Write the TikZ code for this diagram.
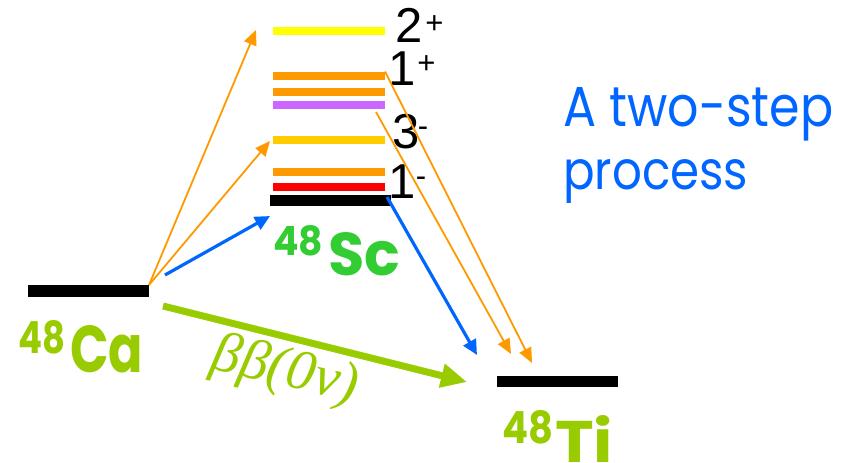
\documentclass[tikz,border=0pt]{standalone}
\usepackage{fontspec}
\usepackage{graphicx}
\setmainfont{Liberation Sans}
\newfontfamily\comicfont{Poppins}
\newfontfamily\grkfont{Liberation Serif}
\usetikzlibrary{arrows.meta}
\definecolor{cyel}{HTML}{FFFF00}
\definecolor{corange}{HTML}{FF9900}
\definecolor{cpurple}{HTML}{CC66FF}
\definecolor{cgold}{HTML}{FFCC00}
\definecolor{cred}{HTML}{FF0000}
\definecolor{cblue}{HTML}{0066FF}
\definecolor{cgreen}{HTML}{33CC33}
\definecolor{clime}{HTML}{99CC00}
\tikzset{
  bar/.style={rectangle, inner sep=0pt, outer sep=0pt, minimum width=112pt, minimum height=8pt},
  gbar/.style={rectangle, inner sep=0pt, outer sep=0pt, fill=black, minimum width=121pt, minimum height=11.5pt},
  lvl/.style={anchor=base west, inner sep=0pt, font=\fontsize{49}{49}\selectfont},
  lbl/.style={anchor=base west, inner sep=0pt, font=\comicfont\bfseries},
  oarr/.style={draw=corange, line width=1.8pt, -{Triangle[length=15pt, width=13pt]}},
  barr/.style={draw=cblue, line width=3.2pt, -{Triangle[length=15pt, width=14pt]}},
  garr/.style={draw=clime, line width=7pt, -{Triangle[length=26pt, width=23pt]}},
}
\newcommand{\supsym}[3]{\kern#1pt\raisebox{#2pt}{\fontsize{31}{31}\selectfont #3}}
\begin{document}
\begin{tikzpicture}[x=1pt, y=-1pt]
\useasboundingbox (0,0) rectangle (849,463);
% levels of 48Sc
\node[bar, fill=cyel]    (y2) at (329,31) {};
\node[bar, fill=corange] (o1) at (329,75.5) {};
\node[bar, fill=corange] (o2) at (329,91.5) {};
\node[bar, fill=cpurple] (pu) at (329,105) {};
\node[bar, fill=cgold]   (g3) at (329,139.5) {};
\node[bar, fill=corange] (o3) at (329,171.5) {};
\node[bar, fill=cred]    (rd) at (329,187) {};
\node[gbar] (sc) at (330.5,200.5) {};
\node[gbar, minimum height=12pt] (ca) at (88.5,291) {};
\node[gbar] (ti) at (557.5,381.5) {};
% spin labels
\node[lvl] (l2p) at (395.6,42) {2\supsym{2.4}{9}{+}};
\node[lvl] (l1p) at (387.8,85) {1\supsym{2.2}{12}{+}};
\node[lvl] (l3m) at (392,148) {3\supsym{-1.5}{12}{-}};
\node[lvl] (l1m) at (387.8,198) {1\supsym{0.6}{12}{-}};
% nucleus labels
\node[lbl, text=clime] (ca48) at (18,353) {\resizebox{47pt}{33pt}{48}};
\node[lbl, text=clime] (catx) at (70,372) {\resizebox{73pt}{47pt}{Ca}};
\node[lbl, text=cgreen] (sc48) at (273,255) {\resizebox{50pt}{30pt}{48}};
\node[lbl, text=cgreen] (sctx) at (328,275) {\resizebox{72pt}{43pt}{Sc}};
\node[lbl, text=clime] (ti48) at (502,443) {\resizebox{51pt}{33pt}{48}};
\node[lbl, text=clime] (titx) at (555,462) {\resizebox{58pt}{47pt}{Ti}};
% title
\node[anchor=base west, inner sep=0pt, text=cblue, font=\comicfont] (t1) at (563,126) {\resizebox{270pt}{39pt}{A two-step}};
\node[anchor=base west, inner sep=0pt, text=cblue, font=\comicfont] (t2) at (563,189) {\resizebox{185pt}{30pt}{process}};
% process label
\node[inner sep=0pt, text=clime, rotate=-13, font=\grkfont\itshape\fontsize{57}{57}\selectfont] (bb) at (285,372) {ββ(0ν)};
% arrow end points
\coordinate (e1) at (256,30);
\coordinate (e2) at (270,141);
\coordinate (b1s) at (165,275);
\coordinate (b1e) at (270,216);
\coordinate (b2s) at (387,197);
\coordinate (b2e) at (477,355);
\coordinate (o4s) at (376,112);
\coordinate (o4e) at (511,354);
\coordinate (o3e) at (532,363);
\coordinate (gs) at (163,306);
\coordinate (ge) at (467,382);
% connectors
\draw[oarr] (ca.north east) -- (e1);
\draw[oarr] (ca.north east) -- (e2);
\draw[barr] (b1s) -- (b1e);
\draw[barr] (b2s) -- (b2e);
\draw[oarr] (o1.north east) -- (o3e);
\draw[oarr] (o4s) -- (o4e);
\draw[garr] (gs) -- (ge);
\end{tikzpicture}
\end{document}
